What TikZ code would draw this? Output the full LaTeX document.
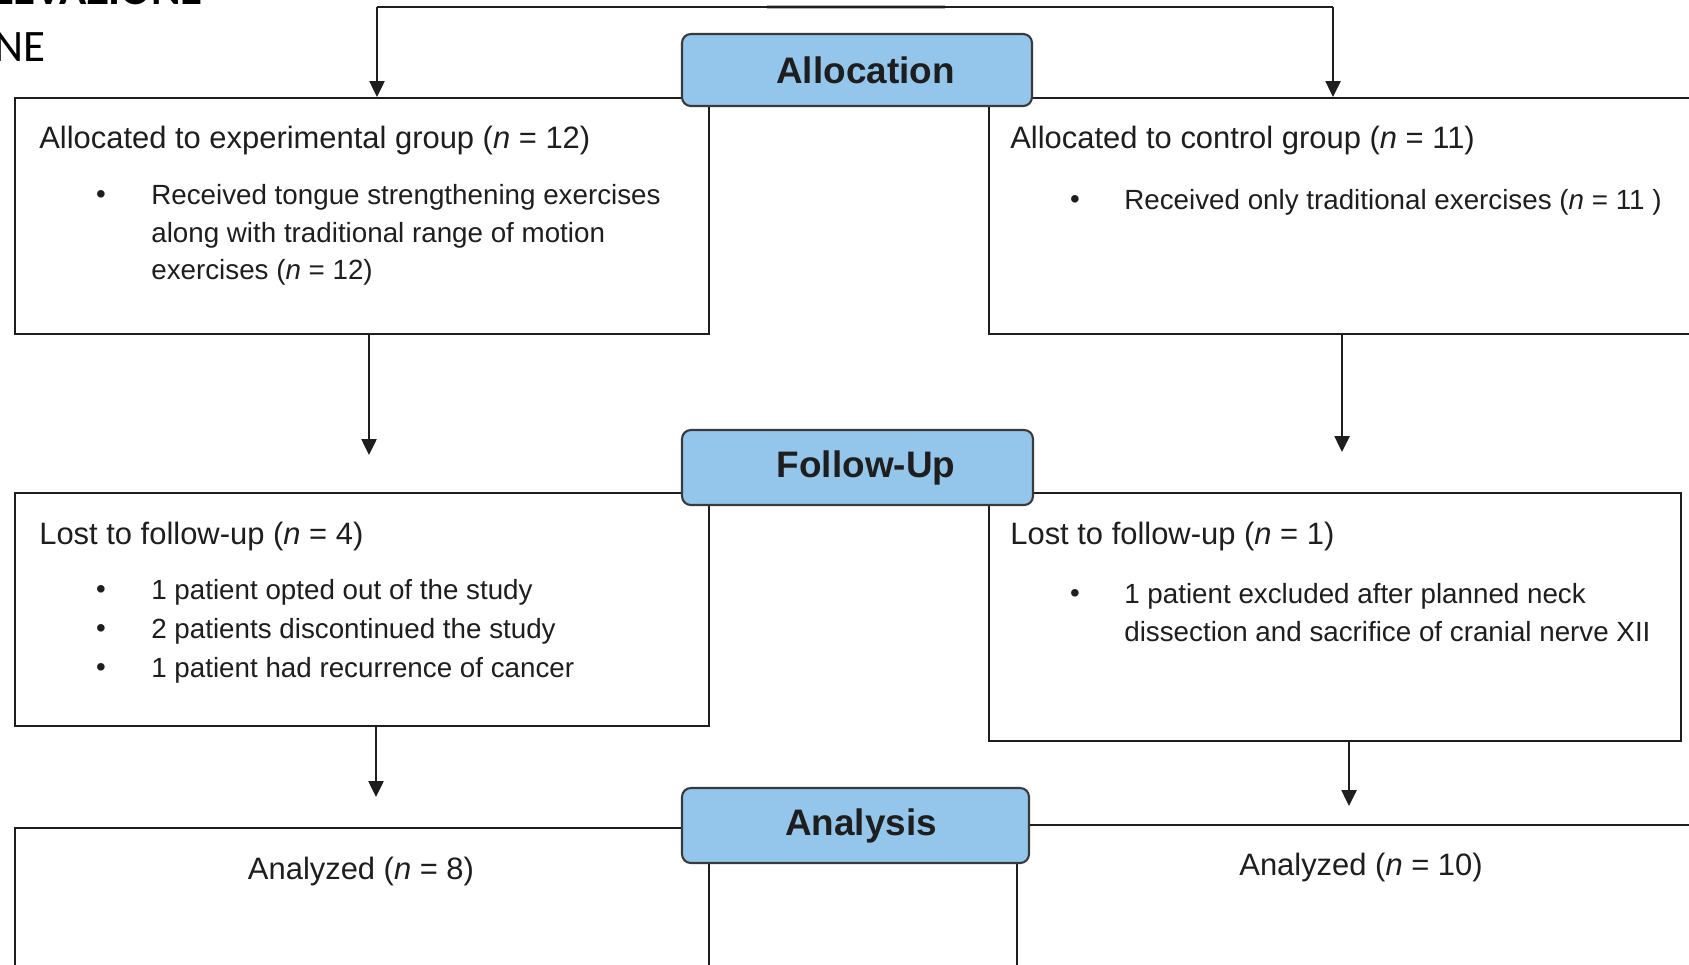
\documentclass[tikz,border=0pt]{standalone}
\usepackage{fontspec}
\setmainfont{Liberation Sans}
\newfontfamily\calibrifont{Carlito}
\usepackage{xcolor}
\usepackage{tikz}
\usetikzlibrary{arrows.meta, positioning}
\definecolor{stagefill}{HTML}{94C6EC}
\definecolor{stageline}{HTML}{3A3A3A}
\definecolor{ink}{HTML}{1E1E1E}
\tikzset{
  groupbox/.style={rectangle, draw=ink, line width=1.1pt, fill=white, anchor=north west, inner sep=0pt},
  stagebox/.style={rectangle, rounded corners=5pt, draw=stageline, line width=1.2pt, fill=stagefill, text=ink, font=\fontsize{21}{25}\selectfont\bfseries, inner sep=0pt},
  headtext/.style={anchor=west, text=ink, font=\fontsize{17.6}{21}\selectfont, inner sep=0pt},
  itemtext/.style={anchor=west, text=ink, font=\fontsize{15.8}{21}\selectfont, inner sep=0pt},
  bulletmark/.style={anchor=center, text=ink, font=\fontsize{15.8}{21}\selectfont, inner sep=0pt},
  titletext/.style={anchor=base east, text=black, inner sep=0pt},
  arr/.style={-{Triangle[length=9pt, width=8.5pt]}, line width=1.2pt, ink},
}

\begin{document}
\begin{tikzpicture}[x=0.02cm, y=-0.02cm]
\useasboundingbox (0,0) rectangle (1689,964);
\clip (0,0) rectangle (1689,964);
% ---- slide title, cut off at the top left ----
\node[titletext, font=\calibrifont\bfseries\fontsize{25.6}{30}\selectfont] (title1) at (203,4) {ELEVAZIONE};
\node[titletext, font=\calibrifont\fontsize{25.6}{30}\selectfont] (title2) at (46,61) {NE};
% ---- group boxes ----
\node[groupbox, minimum width=13.88cm, minimum height=4.72cm] (expA) at (14,97) {};
\node[groupbox, minimum width=14.64cm, minimum height=4.72cm] (ctlA) at (988,97) {};
\node[groupbox, minimum width=13.88cm, minimum height=4.66cm] (expF) at (14,492) {};
\node[groupbox, minimum width=13.84cm, minimum height=4.96cm] (ctlF) at (988,492) {};
\node[groupbox, minimum width=13.88cm, minimum height=3.6cm] (expN) at (14,827) {};
\node[groupbox, minimum width=14.08cm, minimum height=3.6cm] (ctlN) at (1016,824) {};
% ---- stage labels ----
\node[stagebox, minimum width=7cm, minimum height=1.44cm] (alloc) at (857,70) {\hspace{0.34cm}Allocation};
\node[stagebox, minimum width=7.02cm, minimum height=1.5cm] (follow) at (857.5,467.5) {\hspace{0.34cm}Follow-Up};
\node[stagebox, minimum width=6.94cm, minimum height=1.5cm] (anal) at (855.5,825.5) {\hspace{0.22cm}Analysis};
% ---- connectors ----
\coordinate (splitL) at (377,7);
\coordinate (splitR) at (1333,7);
\draw[gray!60, line width=1.8pt] (767,7) -- (945,7);
\draw[ink, line width=1.2pt] (splitL) -- (splitR);
\draw[arr] (splitL) -- (splitL |- expA.north);
\draw[arr] (splitR) -- (splitR |- ctlA.north);
\coordinate (toFollowL) at (369,455);
\coordinate (toFollowR) at (1342,452);
\draw[arr] (toFollowL |- expA.south) -- (toFollowL);
\draw[arr] (toFollowR |- ctlA.south) -- (toFollowR);
\coordinate (toAnalL) at (376,797);
\coordinate (toAnalR) at (1349,806);
\draw[arr] (toAnalL |- expF.south) -- (toAnalL);
\draw[arr] (toAnalR |- ctlF.south) -- (toAnalR);
% ---- allocation texts ----
\node[headtext] (expAhead) at (39,140) {Allocated to experimental group (\textit{n} = 12)};
\node[bulletmark] (expAb1) at (101,197) {\textbullet};
\node[itemtext] (expAt1) at (151,197) {Received tongue strengthening exercises};
\node[itemtext] (expAt2) at (151,235) {along with traditional range of motion};
\node[itemtext] (expAt3) at (151,272) {exercises (\textit{n} = 12)};
\node[headtext] (ctlAhead) at (1010,140) {Allocated to control group (\textit{n} = 11)};
\node[bulletmark] (ctlAb1) at (1075,202) {\textbullet};
\node[itemtext] (ctlAt1) at (1124,202) {Received only traditional exercises (\textit{n} = 11 )};
% ---- follow-up texts ----
\node[headtext] (expFhead) at (39,536) {Lost to follow-up (\textit{n} = 4)};
\node[bulletmark] (expFb1) at (101,592) {\textbullet};
\node[bulletmark] (expFb2) at (101,631) {\textbullet};
\node[bulletmark] (expFb3) at (101,670) {\textbullet};
\node[itemtext] (expFt1) at (151,592) {1 patient opted out of the study};
\node[itemtext] (expFt2) at (151,631) {2 patients discontinued the study};
\node[itemtext] (expFt3) at (151,670) {1 patient had recurrence of cancer};
\node[headtext] (ctlFhead) at (1010,536) {Lost to follow-up (\textit{n} = 1)};
\node[bulletmark] (ctlFb1) at (1075,596) {\textbullet};
\node[itemtext] (ctlFt1) at (1124,596) {1 patient excluded after planned neck};
\node[itemtext] (ctlFt2) at (1124,632) {dissection and sacrifice of cranial nerve XII};
% ---- analysis texts ----
\node[headtext, anchor=center] (expNtext) at (361,871) {Analyzed (\textit{n} = 8)};
\node[headtext, anchor=center] (ctlNtext) at (1361,867) {Analyzed (\textit{n} = 10)};
\end{tikzpicture}
\end{document}
